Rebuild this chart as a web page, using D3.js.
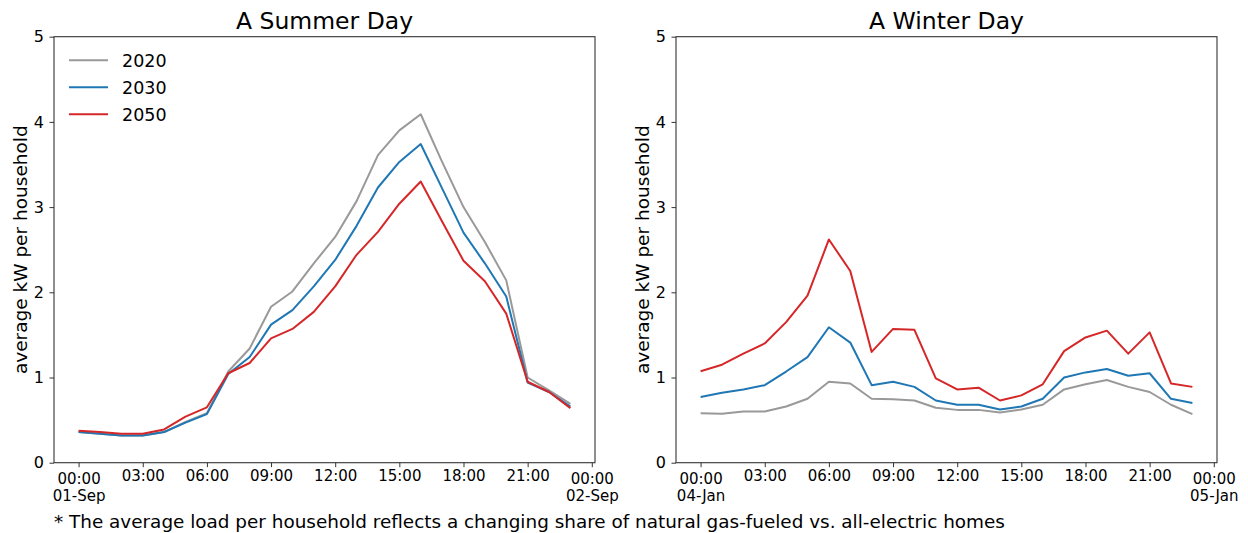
<!DOCTYPE html>
<html>
<head>
<meta charset="utf-8">
<script src="https://cdnjs.cloudflare.com/ajax/libs/d3/7.8.5/d3.min.js"></script>
<style>
  html, body { margin: 0; padding: 0; background: #fff; }
  svg { display: block; font-family: "DejaVu Sans", sans-serif; }
</style>
</head>
<body>
<svg id="chart" width="1248" height="533"></svg>
<script>
// ---- data ----
const hours = d3.range(0, 24);
const seriesNames = ["2020", "2030", "2050"];
const seriesColors = ["#999999", "#1f77b4", "#d62728"];

const summer2020 = [0.36, 0.34, 0.32, 0.32, 0.36, 0.48, 0.58, 1.07, 1.34, 1.83, 2.01, 2.34, 2.65, 3.07, 3.61, 3.90, 4.09, 3.53, 3.00, 2.59, 2.14, 1.00, 0.85, 0.69];
const summer2030 = [0.36, 0.34, 0.32, 0.32, 0.36, 0.47, 0.57, 1.04, 1.24, 1.62, 1.79, 2.07, 2.38, 2.78, 3.23, 3.53, 3.74, 3.22, 2.70, 2.34, 1.95, 0.94, 0.83, 0.66];
const summer2050 = [0.375, 0.36, 0.34, 0.34, 0.39, 0.54, 0.65, 1.05, 1.17, 1.46, 1.57, 1.77, 2.07, 2.44, 2.71, 3.04, 3.30, 2.83, 2.37, 2.13, 1.75, 0.95, 0.83, 0.64];

const winter2020 = [0.58, 0.574, 0.60, 0.60, 0.66, 0.75, 0.95, 0.93, 0.75, 0.746, 0.73, 0.645, 0.62, 0.62, 0.59, 0.625, 0.68, 0.86, 0.92, 0.97, 0.89, 0.83, 0.68, 0.57];
const winter2030 = [0.77, 0.82, 0.86, 0.91, 1.07, 1.24, 1.59, 1.41, 0.91, 0.95, 0.89, 0.73, 0.68, 0.68, 0.625, 0.66, 0.75, 1.00, 1.06, 1.10, 1.02, 1.05, 0.75, 0.70];
const winter2050 = [1.074, 1.15, 1.28, 1.40, 1.65, 1.96, 2.62, 2.25, 1.30, 1.57, 1.56, 0.99, 0.86, 0.88, 0.73, 0.79, 0.92, 1.31, 1.47, 1.55, 1.28, 1.53, 0.93, 0.89];

const xTickHours = [0, 3, 6, 9, 12, 15, 18, 21, 24];
const xTickLabels = ["00:00", "03:00", "06:00", "09:00", "12:00", "15:00", "18:00", "21:00", "00:00"];
const summerDateLabels = ["01-Sep", "02-Sep"];
const winterDateLabels = ["04-Jan", "05-Jan"];
const yTicks = [0, 1, 2, 3, 4, 5];
const titles = ["A Summer Day", "A Winter Day"];
const yLabel = "average kW per household";
const footnote = "* The average load per household reflects a changing share of natural gas-fueled vs. all-electric homes";

// ---- layout ----
const svg = d3.select("#chart");
const plotTop = 36.7, plotBottom = 462.7, plotW = 541;
const panels = [
  { left: 54, title: titles[0], series: [summer2020, summer2030, summer2050], dates: summerDateLabels, legend: true },
  { left: 676, title: titles[1], series: [winter2020, winter2030, winter2050], dates: winterDateLabels, legend: false }
];

const y = d3.scaleLinear().domain([0, 5]).range([plotBottom, plotTop]);

panels.forEach(p => {
  const x = d3.scaleLinear().domain([-1.15, 24.15]).range([p.left, p.left + plotW]);
  const g = svg.append("g");

  // lines
  const line = d3.line().x((d, i) => x(hours[i])).y(d => y(d));
  p.series.forEach((s, si) => {
    g.append("path").datum(s)
      .attr("fill", "none")
      .attr("stroke", seriesColors[si])
      .attr("stroke-width", 2)
      .attr("stroke-linejoin", "round")
      .attr("d", line);
  });

  // frame
  g.append("rect")
    .attr("x", p.left).attr("y", plotTop)
    .attr("width", plotW).attr("height", plotBottom - plotTop)
    .attr("fill", "none").attr("stroke", "#333").attr("stroke-width", 1.1);

  // y axis
  const yAxis = d3.axisLeft(y).tickValues(yTicks).tickSize(4.5).tickPadding(5.5).tickFormat(d3.format("d"));
  const ya = g.append("g").attr("transform", `translate(${p.left},0)`).call(yAxis);
  ya.select(".domain").remove();
  ya.selectAll(".tick line").attr("stroke", "#333");
  ya.selectAll(".tick text").attr("font-size", "16px").attr("fill", "#000")
    .attr("font-family", "DejaVu Sans, sans-serif");

  // x axis
  const xAxis = d3.axisBottom(x).tickValues(xTickHours).tickSize(4.5).tickPadding(4)
    .tickFormat((d, i) => xTickLabels[i]);
  const xa = g.append("g").attr("transform", `translate(0,${plotBottom})`).call(xAxis);
  xa.select(".domain").remove();
  xa.selectAll(".tick line").attr("stroke", "#333");
  xa.selectAll(".tick text").attr("font-size", "15px").attr("fill", "#000")
    .attr("font-family", "DejaVu Sans, sans-serif")
    .each(function (d, i) {
      const t = d3.select(this);
      if (i === 0 || i === xTickHours.length - 1) {
        const date = i === 0 ? p.dates[0] : p.dates[1];
        t.text(null).attr("y", null).attr("dy", null);
        t.append("tspan").attr("x", 0).attr("y", 21.6).text(xTickLabels[i]);
        t.append("tspan").attr("x", 0).attr("y", 38.3).text(date);
      } else {
        t.attr("y", 8).attr("dy", "0.71em");
      }
    });

  // title
  svg.append("text")
    .attr("x", p.left + plotW / 2).attr("y", 28.5)
    .attr("text-anchor", "middle")
    .attr("font-size", "23.5px")
    .attr("fill", "#000")
    .text(p.title);

  // y label
  svg.append("text")
    .attr("transform", `translate(${p.left - 27.5},${(plotTop + plotBottom) / 2}) rotate(-90)`)
    .attr("text-anchor", "middle")
    .attr("font-size", "18.5px")
    .attr("fill", "#000")
    .text(yLabel);

  // legend
  if (p.legend) {
    const lg = svg.append("g");
    seriesNames.forEach((n, i) => {
      const yy = 60.3 + i * 27;
      lg.append("line").attr("x1", 69).attr("x2", 108).attr("y1", yy).attr("y2", yy)
        .attr("stroke", seriesColors[i]).attr("stroke-width", 2);
      lg.append("text").attr("x", 122).attr("y", yy).attr("dy", "0.36em")
        .attr("font-size", "17.5px").attr("fill", "#000").text(n);
    });
  }
});

// footnote
svg.append("text")
  .attr("x", 54).attr("y", 528)
  .attr("font-size", "18.4px")
  .attr("fill", "#000")
  .text(footnote);
</script>
</body>
</html>
